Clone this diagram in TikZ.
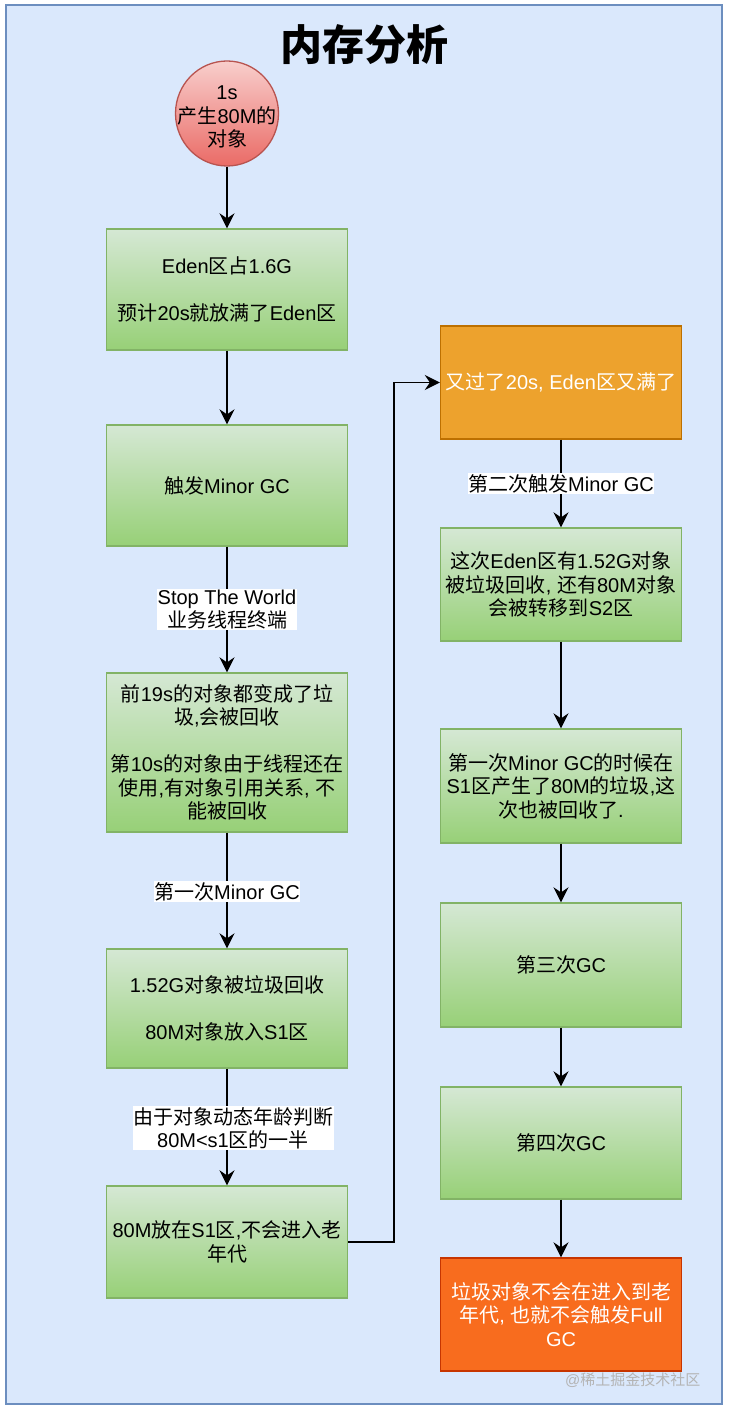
\documentclass[tikz,border=0pt]{standalone}
\usepackage{fontspec}
\setmainfont{Liberation Sans}
\newfontfamily\cjk{Noto Sans CJK SC}
\newcommand\zh[1]{{\cjk #1}}
\usetikzlibrary{arrows.meta,calc,shapes.geometric}
\definecolor{bgfill}{HTML}{DAE8FC}
\definecolor{bgline}{HTML}{6C8EBF}
\definecolor{gtop}{HTML}{D5E8D4}
\definecolor{gbot}{HTML}{97D077}
\definecolor{gline}{HTML}{82B366}
\definecolor{rtop}{HTML}{F8CECC}
\definecolor{rbot}{HTML}{EA6B66}
\definecolor{rline}{HTML}{B85450}
\definecolor{ofill}{HTML}{EDA22D}
\definecolor{oline}{HTML}{BD7000}
\definecolor{dfill}{HTML}{F86C1E}
\definecolor{dline}{HTML}{C73500}
\definecolor{wmark}{HTML}{B4B4B4}
\begin{document}
\begin{tikzpicture}[x=1pt,y=-1pt,
  txt/.style={font=\fontsize{20}{23.5}\selectfont, align=center},
  gbox/.style={txt, rectangle, draw=gline, line width=1.3pt, top color=gtop, bottom color=gbot,
    minimum width=241pt, inner sep=2pt},
  obox/.style={txt, rectangle, draw=oline, line width=1.3pt, fill=ofill, text=white,
    minimum width=241pt, inner sep=2pt},
  dbox/.style={txt, rectangle, draw=dline, line width=1.3pt, fill=dfill, text=white,
    minimum width=241pt, inner sep=2pt},
  ell/.style={ellipse, draw=rline, line width=1.3pt, top color=rtop, bottom color=rbot,
    minimum width=103pt, minimum height=105pt, inner sep=0pt},
  lbl/.style={txt, fill=white, inner xsep=0.5pt, inner ysep=1pt},
  arr/.style={line width=1.8pt, -{Stealth[length=15pt,width=15pt,inset=5pt]}}
]
\useasboundingbox (0,0) rectangle (728,1412);
\draw[fill=bgfill, draw=bgline, line width=1.5pt] (6,5) rectangle (722,1404);

\node[font=\cjk\bfseries\fontsize{42}{48}\selectfont] (title) at (364,45) {内存分析};

\node[ell] (e) at (227,113.5) {};
\node[txt] (etext) at (227,117) {1s\\\zh{产生}80M\zh{的}\\\zh{对象}};

\node[gbox, minimum height=121pt] (b1) at (227,289.5)
  {Eden\zh{区占}1.6G\\[\baselineskip]\zh{预计}20s\zh{就放满了}Eden\zh{区}};
\node[gbox, minimum height=121pt] (b2) at (227,485.5) {\zh{触发}Minor GC};
\node[gbox, minimum height=159pt] (b3) at (227,752.5)
  {\zh{前}19s\zh{的对象都变成了垃}\\\zh{圾},\zh{会被回收}\\[\baselineskip]\zh{第}10s\zh{的对象由于线程还在}\\\zh{使用},\zh{有对象引用关系}, \zh{不}\\\zh{能被回收}};
\node[gbox, minimum height=119pt] (b4) at (227,1008.5)
  {1.52G\zh{对象被垃圾回收}\\[\baselineskip]80M\zh{对象放入}S1\zh{区}};
\node[gbox, minimum height=112pt] (b5) at (227,1242)
  {80M\zh{放在}S1\zh{区},\zh{不会进入老}\\\zh{年代}};

\node[obox, minimum height=113pt] (r1) at (561,382.5) {\zh{又过了}20s, Eden\zh{区又满了}};
\node[gbox, minimum height=113pt] (r2) at (561,584.5)
  {\zh{这次}Eden\zh{区有}1.52G\zh{对象}\\\zh{被垃圾回收}, \zh{还有}80M\zh{对象}\\\zh{会被转移到}S2\zh{区}};
\node[gbox, minimum height=114pt] (r3) at (561,786)
  {\zh{第一次}Minor GC\zh{的时候在}\\S1\zh{区产生了}80M\zh{的垃圾},\zh{这}\\\zh{次也被回收了}.};
\node[gbox, minimum height=124pt] (r4) at (561,965) {\zh{第三次}GC};
\node[gbox, minimum height=112pt] (r5) at (561,1143) {\zh{第四次}GC};
\node[dbox, minimum height=113pt] (r6) at (561,1314.5)
  {\zh{垃圾对象不会在进入到老}\\\zh{年代}, \zh{也就不会触发}Full\\GC};

\draw[arr] (e.south) -- (b1.north);
\draw[arr] (b1.south) -- (b2.north);
\draw[arr] (b2.south) -- node[lbl, pos=0.5] {Stop The World\\\zh{业务线程终端}} (b3.north);
\draw[arr] (b3.south) -- node[lbl, pos=0.51] {\zh{第一次}Minor GC} (b4.north);
\draw[arr] (b4.south) -- node[lbl, pos=0.51, xshift=6pt] {\zh{由于对象动态年龄判断}\\80M<s1\zh{区的一半}} (b5.north);
\coordinate (bend) at (394,800);
\draw[arr] (b5.east) -| (bend) |- (r1.west);
\draw[arr] (r1.south) -- node[lbl, pos=0.5] {\zh{第二次触发}Minor GC} (r2.north);
\draw[arr] (r2.south) -- (r3.north);
\draw[arr] (r3.south) -- (r4.north);
\draw[arr] (r4.south) -- (r5.north);
\draw[arr] (r5.south) -- (r6.north);

\node[anchor=east, text=wmark, font=\fontsize{15}{18}\selectfont] (wm) at (704,1380) {@\zh{稀土掘金技术社区}};
\end{tikzpicture}
\end{document}
